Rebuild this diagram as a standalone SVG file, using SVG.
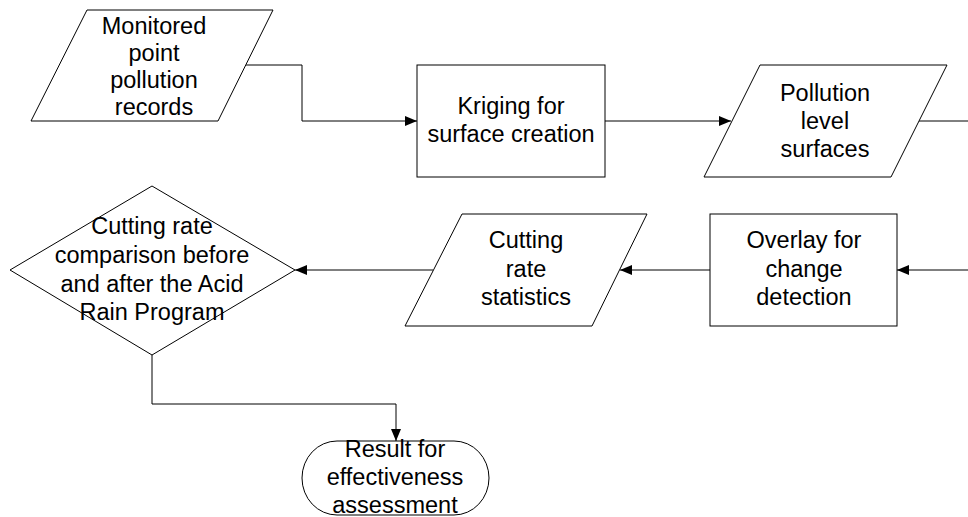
<svg xmlns="http://www.w3.org/2000/svg" width="968" height="517" viewBox="0 0 968 517">
<style>
.s{fill:#fff;stroke:#000;stroke-width:1}
.t{font-family:"Liberation Sans",Arial,sans-serif;font-size:23.5px;fill:#000;text-anchor:middle}
.c{fill:none;stroke:#000;stroke-width:1}
</style>
<defs>
<marker id="ah" markerUnits="userSpaceOnUse" markerWidth="13" markerHeight="11" refX="12" refY="5" orient="auto">
<path d="M0,0 L12,5 L0,10 z" fill="#000"/>
</marker>
</defs>
<rect width="968" height="517" fill="#fff"/>
<g id="connectors">
<polyline class="c" points="246,65 302,65 302,121 417,121" marker-end="url(#ah)"/>
<line class="c" x1="605" y1="121" x2="731" y2="121" marker-end="url(#ah)"/>
<line class="c" x1="919" y1="121" x2="968" y2="121"/>
<line class="c" x1="968" y1="270" x2="897" y2="270" marker-end="url(#ah)"/>
<line class="c" x1="710" y1="270" x2="620" y2="270" marker-end="url(#ah)"/>
<line class="c" x1="433" y1="270" x2="295" y2="270" marker-end="url(#ah)"/>
<polyline class="c" points="152,355 152,404 396,404 396,441" marker-end="url(#ah)"/>
</g>
<g id="n1">
<polygon class="s" points="87,10 273,10 218,121 31,121"/>
<text class="t" x="154" y="34">Monitored</text>
<text class="t" x="154" y="61">point</text>
<text class="t" x="154" y="88">pollution</text>
<text class="t" x="154" y="115">records</text>
</g>
<g id="n2">
<rect class="s" x="417" y="65" width="188" height="112"/>
<text class="t" x="511" y="114">Kriging for</text>
<text class="t" x="511" y="142">surface creation</text>
</g>
<g id="n3">
<polygon class="s" points="760,65 947,65 891,177 704,177"/>
<text class="t" x="825" y="101">Pollution</text>
<text class="t" x="825" y="129">level</text>
<text class="t" x="825" y="157">surfaces</text>
</g>
<g id="n4">
<rect class="s" x="710" y="214" width="187" height="112"/>
<text class="t" x="804" y="248">Overlay for</text>
<text class="t" x="804" y="277">change</text>
<text class="t" x="804" y="305">detection</text>
</g>
<g id="n5">
<polygon class="s" points="462,214 647,214 592,326 405,326"/>
<text class="t" x="526" y="248">Cutting</text>
<text class="t" x="526" y="277">rate</text>
<text class="t" x="526" y="305">statistics</text>
</g>
<g id="n6">
<polygon class="s" points="152,186 295,270 152,355 10,270"/>
<text class="t" x="152" y="234">Cutting rate</text>
<text class="t" x="152" y="263">comparison before</text>
<text class="t" x="152" y="292">and after the Acid</text>
<text class="t" x="152" y="320">Rain Program</text>
</g>
<g id="n7">
<rect class="s" x="302" y="441" width="187" height="74" rx="35" ry="37"/>
<text class="t" x="395" y="457">Result for</text>
<text class="t" x="395" y="485">effectiveness</text>
<text class="t" x="395" y="513">assessment</text>
</g>
</svg>
